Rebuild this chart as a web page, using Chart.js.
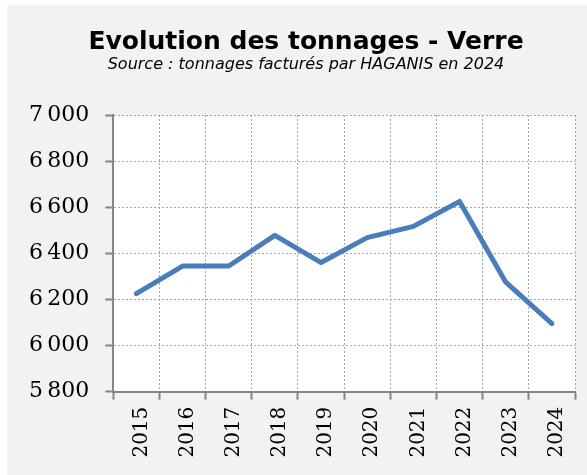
<!DOCTYPE html>
<html>
<head>
<meta charset="utf-8">
<script src="https://cdn.jsdelivr.net/npm/chart.js@4"></script>
<style>
    body { margin: 0; background: #ffffff; overflow: hidden; }
    #cadre { position: absolute; left: 7px; top: 5px; width: 580px; height: 470px; background: #f2f2f2; overflow: hidden; }
</style>
</head>
<body>
<div id="cadre">
    <canvas id="grafico" width="598" height="470"></canvas>
</div>
<script>
const annees = ['2015', '2016', '2017', '2018', '2019', '2020', '2021', '2022', '2023', '2024']
const tonnagesVerre = [6225, 6345, 6345, 6478, 6360, 6468, 6517, 6625, 6275, 6095]
const axeMin = 5800
const axeMax = 7000
const pasAxe = 200

// fond blanc de la zone de tracé
const fondZoneTrace = {
    id: 'fondZoneTrace',
    beforeDraw: (chart) => {
        const { ctx, chartArea } = chart
        ctx.save()
        ctx.fillStyle = '#ffffff'
        ctx.fillRect(chartArea.left, chartArea.top, chartArea.right - chartArea.left, chartArea.bottom - chartArea.top)
        ctx.restore()
    }
}

const formatMilliers = (valeur) => {
    const texte = String(valeur)
    return texte.length > 3 ? texte.slice(0, -3) + '\u2009' + texte.slice(-3) : texte
}

const ctx = document.getElementById('grafico')

const data = {
    labels: annees,
    datasets: [
        {
            label: 'Verre',
            data: tonnagesVerre,
            borderColor: '#4a7ebb',
            backgroundColor: '#4a7ebb',
            borderWidth: 5,
            borderJoinStyle: 'round',
            borderCapStyle: 'round',
            pointRadius: 0,
            tension: 0
        }
    ]
}

const config = {
    type: 'line',
    data: data,
    options: {
        responsive: false,
        animation: false,
        layout: {
            padding: { left: 0, right: 0, top: 0, bottom: 0 }
        },
        plugins: {
            legend: { display: false },
            tooltip: { enabled: false },
            title: {
                display: true,
                text: 'Evolution des tonnages - Verre',
                color: '#000000',
                font: { family: 'DejaVu Sans', size: 25, weight: 'bold', lineHeight: 1.1 },
                padding: { top: 24, bottom: 0 }
            },
            subtitle: {
                display: true,
                text: 'Source : tonnages facturés par HAGANIS en 2024',
                color: '#000000',
                font: { family: 'DejaVu Sans', size: 16, style: 'italic', lineHeight: 1.0 },
                padding: { top: 0, bottom: 42.5 }
            }
        },
        scales: {
            x: {
                offset: true,
                grid: {
                    offset: true,
                    color: '#a6a6a6',
                    lineWidth: 1,
                    tickColor: '#868686',
                    tickWidth: 2,
                    tickBorderDash: [],
                    tickLength: 8
                },
                border: { color: '#868686', width: 2, dash: [2, 2] },
                ticks: {
                    color: '#000000',
                    font: { family: 'DejaVu Serif', size: 20 },
                    minRotation: 90,
                    maxRotation: 90,
                    padding: 7,
                    labelOffset: 5,
                    autoSkip: false
                },
                afterFit: (scale) => { scale.height = 83.3 }
            },
            y: {
                min: axeMin,
                max: axeMax,
                grid: {
                    color: '#a6a6a6',
                    lineWidth: 1,
                    tickColor: '#868686',
                    tickWidth: 2,
                    tickBorderDash: [],
                    tickLength: 8
                },
                border: { color: '#868686', width: 2, dash: [2, 2] },
                ticks: {
                    stepSize: pasAxe,
                    color: '#000000',
                    font: { family: 'DejaVu Serif', size: 22 },
                    padding: 16,
                    callback: (valeur) => formatMilliers(valeur)
                },
                afterFit: (scale) => { scale.width = 106.3 }
            },
            // axe vide à droite, juste pour la marge
            marge: {
                type: 'linear',
                axis: 'y',
                position: 'right',
                grid: { display: false },
                border: { display: false },
                ticks: { display: false },
                afterFit: (scale) => { scale.width = 30 }
            }
        }
    },
    plugins: [fondZoneTrace]
}

const myChart = new Chart(ctx, config)
</script>
</body>
</html>
